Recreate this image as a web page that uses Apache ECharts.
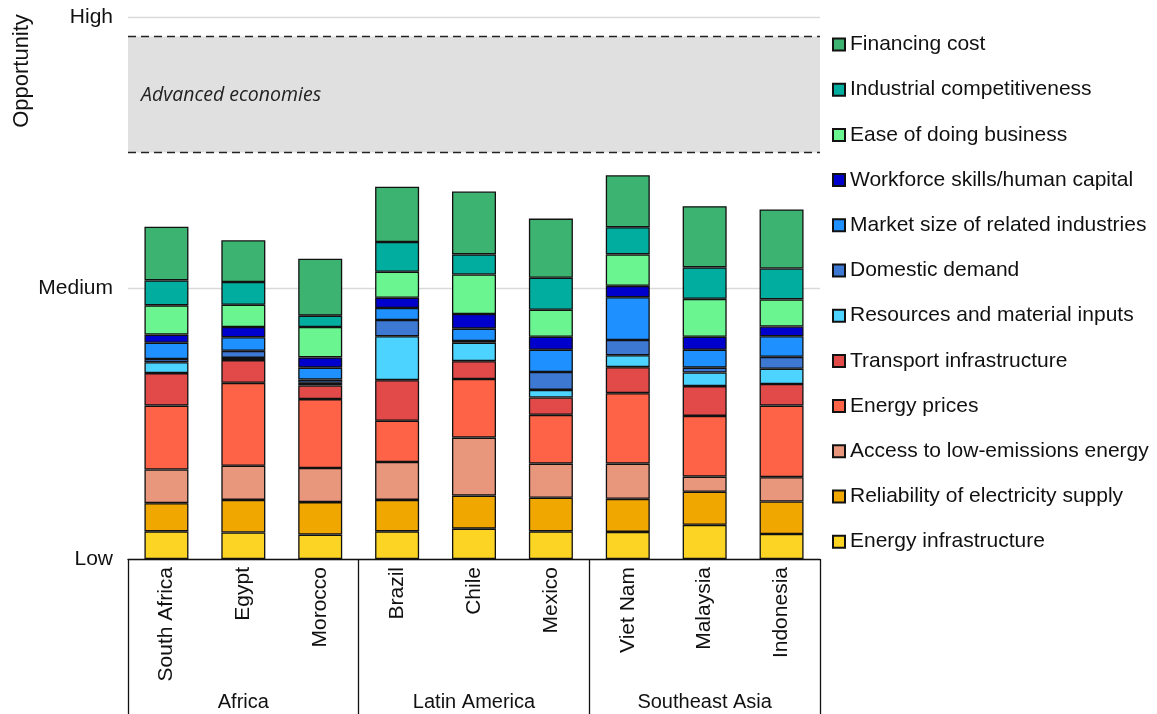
<!DOCTYPE html>
<html lang="en">
<head>
    <meta charset="UTF-8">
    <title>Opportunity by factor</title>
    <script src="https://cdn.jsdelivr.net/npm/echarts@6/dist/echarts.min.js"></script>
    <style>
        html, body { margin: 0; padding: 0; background: #fff; }
        #main { width: 1157px; height: 714px; }
    </style>
</head>
<body>
<div id="main"></div>
<script>
    // countries and regions
    var countries = ['South Africa', 'Egypt', 'Morocco', 'Brazil', 'Chile', 'Mexico', 'Viet Nam', 'Malaysia', 'Indonesia'];
    var regions = ['Africa', 'Latin America', 'Southeast Asia'];
    // y scale: 0 = Low, 50 = Medium, 100 = High
    var yTicks = {0: 'Low', 50: 'Medium', 100: 'High'};
    var advancedBand = [75, 96.4];

    // segments, bottom to top
    var energyInfra   = [5.1, 4.9, 4.5, 5.1, 5.6, 5.1, 5.0, 6.3, 4.6];
    var reliability   = [5.2, 6.0, 6.0, 5.8, 6.1, 6.2, 6.1, 6.1, 6.0];
    var accessLowEm   = [6.2, 6.3, 6.3, 7.0, 10.7, 6.3, 6.5, 2.8, 4.5];
    var energyPrices  = [11.8, 15.3, 12.7, 7.6, 10.8, 9.0, 13.0, 11.2, 13.2];
    var transport     = [6.0, 4.2, 2.5, 7.5, 3.3, 3.2, 4.8, 5.5, 4.0];
    var resources     = [2.0, 0.4, 0.5, 8.1, 3.4, 1.4, 2.2, 2.5, 2.8];
    var domestic      = [0.6, 1.3, 0.6, 3.0, 0.3, 3.3, 2.8, 0.9, 2.2];
    var marketSize    = [3.0, 2.5, 2.2, 2.2, 2.3, 4.1, 7.9, 3.3, 3.8];
    var workforce     = [1.5, 1.9, 1.9, 1.9, 2.7, 2.4, 2.1, 2.4, 1.8];
    var easeBusiness  = [5.4, 4.1, 5.6, 4.8, 7.3, 5.0, 5.8, 7.0, 5.0];
    var industrial    = [4.6, 4.2, 2.1, 5.5, 3.7, 5.9, 5.0, 5.8, 5.7];
    var financing     = [9.9, 7.7, 10.5, 10.2, 11.6, 10.9, 9.6, 11.3, 10.9];

    var layers = [
        ['Energy infrastructure', energyInfra, '#FBD424'],
        ['Reliability of electricity supply', reliability, '#F0A800'],
        ['Access to low-emissions energy', accessLowEm, '#E8967C'],
        ['Energy prices', energyPrices, '#FF6347'],
        ['Transport infrastructure', transport, '#E24A4A'],
        ['Resources and material inputs', resources, '#4CD3FF'],
        ['Domestic demand', domestic, '#3D78D3'],
        ['Market size of related industries', marketSize, '#1E90FF'],
        ['Workforce skills/human capital', workforce, '#0000CC'],
        ['Ease of doing business', easeBusiness, '#6AF591'],
        ['Industrial competitiveness', industrial, '#00AD9F'],
        ['Financing cost', financing, '#3CB371']
    ];

    var font = '"Liberation Sans", Arial, sans-serif';

    var series = layers.map(function (l) {
        return {
            name: l[0],
            type: 'bar',
            stack: 'total',
            data: l[1],
            barWidth: 44,
            itemStyle: {color: l[2], borderColor: '#111', borderWidth: 1.3},
            emphasis: {disabled: true}
        };
    });
    // grey band for advanced economies
    series[0].markArea = {
        silent: true,
        itemStyle: {color: '#E0E0E0'},
        label: {
            show: true, position: 'insideLeft', offset: [8, 1],
            formatter: 'Advanced economies',
            fontFamily: '"Open Sans", sans-serif', fontStyle: 'italic',
            fontSize: 19.5, color: '#222'
        },
        data: [[{yAxis: advancedBand[0]}, {yAxis: advancedBand[1]}]]
    };
    series[0].markLine = {
        silent: true,
        symbol: 'none',
        label: {show: false},
        lineStyle: {color: '#222', type: [8, 5], width: 1.3},
        data: [{yAxis: advancedBand[0]}, {yAxis: advancedBand[1]}]
    };

    var myChart = echarts.init(document.getElementById('main'));
    var option = {
        animation: false,
        grid: {left: 128, right: 337, top: 17, bottom: 155},
        legend: {
            orient: 'vertical',
            left: 832,
            top: 34,
            padding: 0,
            icon: 'rect',
            itemWidth: 12,
            itemHeight: 12,
            itemGap: 24.2,
            selectedMode: false,
            data: layers.map(function (l) { return l[0]; }).reverse(),
            textStyle: {fontFamily: font, fontSize: 21, color: '#111', lineHeight: 21}
        },
        xAxis: [
            {
                type: 'category',
                data: countries,
                axisLine: {lineStyle: {color: '#111', width: 1.3}},
                axisTick: {show: false},
                axisLabel: {rotate: 90, margin: 8, fontFamily: font, fontSize: 21, color: '#111', interval: 0}
            },
            {
                type: 'category',
                data: regions,
                position: 'bottom',
                axisLine: {show: false},
                axisTick: {show: true, length: 160, lineStyle: {color: '#111', width: 1.3}, interval: 0},
                axisLabel: {margin: 133, fontFamily: font, fontSize: 20, color: '#111', interval: 0}
            }
        ],
        yAxis: {
            type: 'value',
            min: 0,
            max: 100,
            interval: 50,
            axisLine: {show: false},
            axisTick: {show: false},
            splitLine: {lineStyle: {color: '#D9D9D9', width: 1.3}},
            axisLabel: {
                margin: 15, fontFamily: font, fontSize: 21, color: '#111',
                padding: [0, 0, 5, 0],
                formatter: function (v) { return yTicks[v] || ''; }
            }
        },
        graphic: [{
            type: 'text',
            x: 22,
            y: 71,
            rotation: Math.PI / 2,
            style: {text: 'Opportunity', font: '22px "Liberation Sans", Arial, sans-serif', fill: '#111', align: 'center', verticalAlign: 'middle'}
        }],
        series: series
    };
    myChart.setOption(option);
</script>
</body>
</html>
